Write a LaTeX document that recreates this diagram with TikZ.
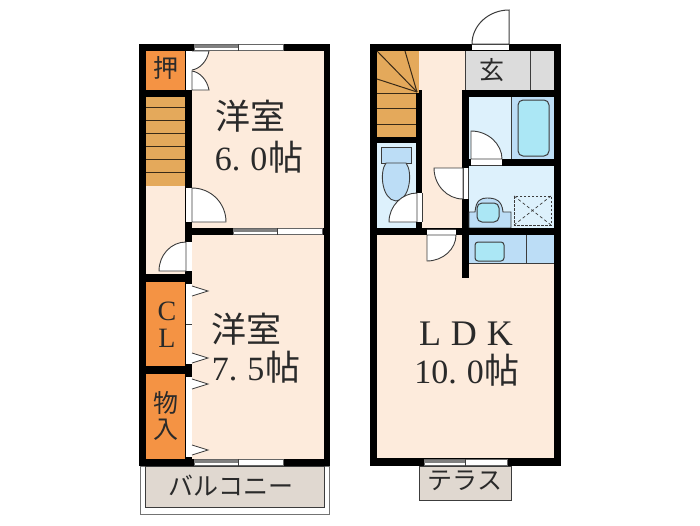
\documentclass[tikz,border=0pt]{standalone}
\usepackage{fontspec}
\setmainfont{Liberation Serif}
\newfontfamily\cjk{Noto Sans CJK JP}
\definecolor{peach}{HTML}{FDEBDC}
\definecolor{orng}{HTML}{F49344}
\definecolor{stair}{HTML}{E4A95B}
\definecolor{pale}{HTML}{DDF1FC}
\definecolor{lblue}{HTML}{BCDDF6}
\definecolor{aqua}{HTML}{ABE7F5}
\definecolor{gry}{HTML}{DCDCDC}
\definecolor{bei}{HTML}{E0D8D0}
\definecolor{ink}{HTML}{2A2A2A}
\definecolor{dk}{HTML}{3C3C3C}
\newcommand{\tie}{{\fontsize{35}{36}\selectfont\cjk 帖}}
\tikzset{
 wall/.style={fill=black,draw=none},
 thin line/.style={draw=dk,line width=0.9pt},
 leaf/.style={draw=dk,line width=0.9pt,fill=white},
 room/.style={text=ink,inner sep=0pt,align=center},
 big/.style={room,font=\fontsize{35}{38}\selectfont},
 num/.style={room,font=\fontsize{34}{38}\selectfont},
 small/.style={room,font=\fontsize{25}{28}\selectfont},
 sash/.style={fill=white,draw=gray!80!black,line width=0.8pt},
 stairline/.style={draw=black!75!stair,line width=1pt},
 tip/.style={draw=dk,line width=0.8pt,fill=white},
}
\begin{document}
\begin{tikzpicture}[x=1pt,y=-1pt]
\useasboundingbox (0,0) rectangle (700,525);
\fill[white] (0,0) rectangle (700,525);
% balcony and terrace
\draw[draw=gray!90!black,line width=1pt,fill=white] (140,466) rectangle (329.5,514);
\draw[draw=dk,line width=1pt,fill=bei] (145,466) rectangle (324,507);
\draw[draw=dk,line width=1pt,fill=bei] (419,466) rectangle (511,500);
% LEFT UNIT
\fill[wall] (139,44) rectangle (330,466);
\fill[peach] (192,51) rectangle (324,228);
\fill[peach] (192,235) rectangle (324,459);
\fill[orng] (146,51) rectangle (185,90);
\fill[stair] (146,97) rectangle (185,186);
\foreach \yy in {107,120,133,146,159,172}{\draw[stairline] (146,\yy) -- (185,\yy);}
\fill[peach] (146,186) rectangle (185,274);
\fill[orng] (146,282) rectangle (185,366);
\fill[orng] (146,374) rectangle (185,459);
% closet doors upper
\fill[white] (186,51) rectangle (192,90);
\draw[leaf] (192,70) .. controls (199,69) and (207,62) .. (209,51) -- (192,51);
\draw[leaf] (192,71) .. controls (199,72) and (207,79) .. (209,90) -- (192,90) -- cycle;
% room door
\fill[white] (186,188) rectangle (192,222);
\draw[leaf] (192,188) .. controls (211,188) and (226,203) .. (226,222) -- (192,222) -- cycle;
% hall door
\fill[white] (186,242) rectangle (192,271);
\draw[leaf] (186,242) .. controls (171,242) and (159,255) .. (159,271) -- (186,271) -- cycle;
% sliding closet doors
\fill[white] (186,284) rectangle (192,364);
\fill[white] (186,377) rectangle (192,457);
\draw[dk,line width=.6pt] (186,324) -- (192,324);
\foreach \yy in {291,358,384,450}{\draw[tip] (192,\yy-5) -- (208,\yy) -- (192,\yy+5);}
% windows
\draw[sash] (233,228.5) rectangle (322,234.5);
\draw[sash] (194,44.5) rectangle (283,50);
\draw[sash] (194,459.5) rectangle (283,465.5);
\draw[dk,line width=1pt] (277,228) -- (277,235);
\draw[dk,line width=1pt] (238,44) -- (238,51);
\draw[dk,line width=1pt] (238,459) -- (238,466);
\fill[gray] (233,229) rectangle (277,231.5);
\fill[gray] (194,45) rectangle (238,47.5);
\fill[gray] (194,460) rectangle (238,462.5);
% RIGHT UNIT
\fill[wall] (370,44) rectangle (561,466);
\fill[peach] (377,235) rectangle (554,458);
\fill[peach] (422,51) rectangle (462,228);
\fill[peach] (416,51) rectangle (465,90);
% stairs
\fill[stair] (377,51) rectangle (419,93);
\fill[stair] (377,93) rectangle (416,137);
\draw[stairline] (377,93) -- (417,93);
\draw[stairline] (377,51) -- (417,92);
\draw[stairline] (405,51) -- (417,92);
\draw[stairline] (377,79) -- (417,92);
\draw[stairline] (377,108) -- (416,108);
\draw[stairline] (377,124) -- (416,124);
\fill[wall] (416,93) rectangle (422,193);
% toilet
\fill[pale] (377,143) rectangle (416,228);
\fill[white] (416,193) rectangle (422,222);
\draw[thin line] (416,193) -- (416,222) (422,193) -- (422,222);
\draw[thin line,fill=lblue] (381,147) rectangle (411,163);
\draw[thin line,fill=lblue] (386,163) .. controls (379,172) and (382,200) .. (396,201) .. controls (410,200) and (413,172) .. (406,163) -- cycle;
\draw[leaf] (417,193) .. controls (402,193) and (389,206) .. (389,222) -- (417,222) -- cycle;
% genkan
\fill[gry] (465,51) rectangle (554,90);
\draw[draw=dk,line width=.8pt] (465,51) -- (465,90) (530,51) -- (530,90);
% bath
\fill[wall] (462,90) rectangle (561,97);
\fill[wall] (462,90) rectangle (469,168);
\fill[pale] (469,97) rectangle (511,159);
\fill[lblue] (511,97) rectangle (554,159);
\draw[thin line] (511,97) -- (511,159);
\draw[draw=dk,line width=1pt,fill=aqua,rounded corners=5pt] (518,100) rectangle (549,156);
% washroom
\fill[pale] (469,166) rectangle (554,228);
\fill[wall] (502,159) rectangle (561,166);
\fill[white] (471,159) rectangle (502,165);
\draw[thin line] (471,165) -- (502,165);
\draw[leaf] (471,131) .. controls (488,131) and (502,144) .. (502,159) -- (471,159) -- cycle;
% washroom door
\fill[wall] (462,199) rectangle (469,278);
\fill[white] (463,168) rectangle (468,199);
\draw[thin line] (463,168) -- (463,199) (468,168) -- (468,199);
\draw[leaf] (434,168) .. controls (434,185) and (447,199) .. (463,199) -- (463,168) -- cycle;
% basin
\draw[draw=dk,line width=.9pt,fill=lblue] (469,228) -- (469,212) -- (475,212) .. controls (476,200) and (481,198) .. (487,198) .. controls (495,198) and (502,200) .. (503,212) -- (511,212) -- (511,228) -- cycle;
\draw[draw=dk,line width=1pt,fill=aqua,rounded corners=5pt] (477,203) rectangle (499,222);
% washer
\draw[draw=dk,line width=1pt,dash pattern=on 2.5pt off 1.5pt] (514,196) rectangle (551,225);
\draw[draw=dk,line width=.7pt,dash pattern=on 3pt off 2.5pt] (514,196) -- (551,225) (551,196) -- (514,225);
% wall across
\fill[wall] (377,228) rectangle (561,235);
\fill[wall] (416,222) rectangle (422,229);
% kitchen
\fill[lblue] (469,235) rectangle (554,263);
\draw[thin line] (526,235) -- (526,263);
\draw[thin line] (469,263) -- (554,263);
\draw[draw=dk,line width=1pt,fill=aqua,rounded corners=3pt] (475,242) rectangle (504,261);
% LDK door
\fill[white] (427,229) rectangle (456,235);
\draw[thin line] (427,229) -- (456,229);
\draw[leaf] (427,261) .. controls (443,261) and (456,249) .. (456,235) -- (427,235) -- cycle;
% entrance
\fill[white] (472,45) rectangle (509,50);
\draw[draw=dk,line width=.7pt] (472,44.5) -- (509,44.5);
\draw[draw=dk,line width=1pt,fill=white] (472,44) .. controls (472,25) and (489,10) .. (509,10) -- (509,44) -- cycle;
% terrace window
\draw[sash] (424,459.5) rectangle (507,465.5);
\fill[gray] (424,460) rectangle (465,462.5);
\draw[dk,line width=1pt] (465,459) -- (465,466);
% labels
\node[big] (r1a) at (250,116) {\cjk 洋室};
\node[num] (r1b) at (259,157) {6.\hspace{10pt}0\hspace{1pt}\tie};
\node[big] (r2a) at (246,329) {\cjk 洋室};
\node[num] (r2b) at (256,367) {7.\hspace{10pt}5\hspace{1pt}\tie};
\node[room,font=\fontsize{36}{38}\selectfont] (ldk) at (466,334) {L\hspace{10pt}D\hspace{10pt}K};
\node[num] (ldkb) at (467,370) {10.\hspace{10pt}0\hspace{1pt}\tie};
\node[small] (osi) at (166,68) {\cjk 押};
\node[room,font=\fontsize{28}{30}\selectfont] (c) at (167,311) {C};
\node[room,font=\fontsize{28}{30}\selectfont] (l) at (167,338) {L};
\node[small] (mono) at (166,403) {\cjk 物};
\node[small] (iri) at (166,430) {\cjk 入};
\node[small] (gen) at (492,70) {\cjk 玄};
\node[small] (bal) at (231,486) {\cjk バルコニー};
\node[small] (ter) at (465,481) {\cjk テラス};
\end{tikzpicture}
\end{document}
